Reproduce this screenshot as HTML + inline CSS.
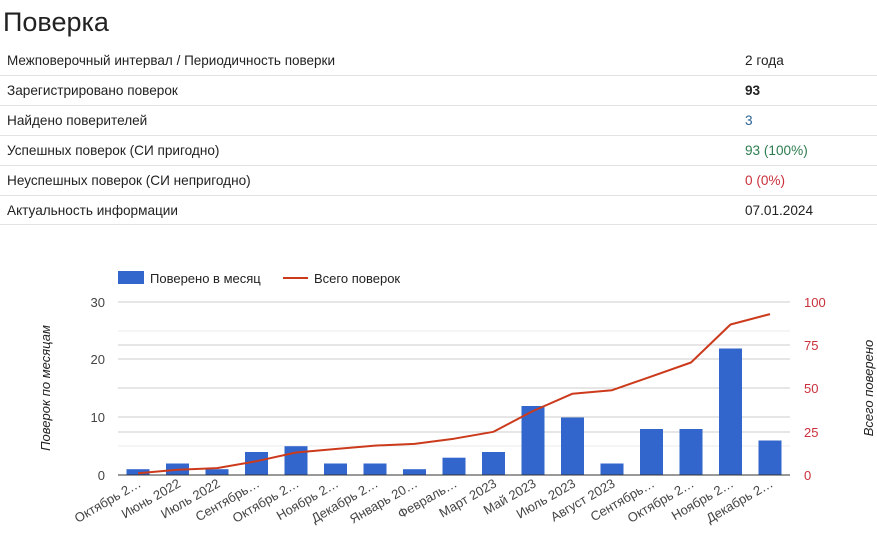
<!DOCTYPE html>
<html><head><meta charset="utf-8"><style>
body{margin:0;background:#fff;}
svg text{font-family:"Liberation Sans",sans-serif;}
</style></head><body>
<svg width="877" height="546" xmlns="http://www.w3.org/2000/svg">
<text x="3" y="31" font-size="27" fill="#222">Поверка</text>
<g font-size="13.6" fill="#222">
<text x="7" y="65" textLength="328" lengthAdjust="spacingAndGlyphs">Межповерочный интервал / Периодичность поверки</text>
<text x="745" y="65">2 года</text>
<text x="7" y="95">Зарегистрировано поверок</text>
<text x="745" y="95" font-weight="bold">93</text>
<text x="7" y="125">Найдено поверителей</text>
<text x="745" y="125" fill="#2a6496">3</text>
<text x="7" y="155">Успешных поверок (СИ пригодно)</text>
<text x="745" y="155" fill="#2e7d4f">93 (100%)</text>
<text x="7" y="185">Неуспешных поверок (СИ непригодно)</text>
<text x="745" y="185" fill="#c9303c">0 (0%)</text>
<text x="7" y="215">Актуальность информации</text>
<text x="745" y="215">07.01.2024</text>
</g>
<g stroke="#e2e2e2" stroke-width="1">
<line x1="0" y1="75.5" x2="877" y2="75.5"/><line x1="0" y1="105.5" x2="877" y2="105.5"/>
<line x1="0" y1="135.5" x2="877" y2="135.5"/><line x1="0" y1="165.5" x2="877" y2="165.5"/>
<line x1="0" y1="195.5" x2="877" y2="195.5"/><line x1="0" y1="224.5" x2="877" y2="224.5"/>
</g>
<rect x="118" y="271" width="26" height="13" fill="#3366cc"/>
<text x="150" y="283" font-size="13" fill="#222">Поверено в месяц</text>
<line x1="283" y1="278" x2="308" y2="278" stroke="#cc3a1c" stroke-width="2"/>
<text x="314" y="283" font-size="13" fill="#222">Всего поверок</text>
<g stroke="#ccc" stroke-width="1">
<line x1="118" y1="302" x2="790" y2="302"/>
<line x1="118" y1="345" x2="790" y2="345"/>
<line x1="118" y1="359" x2="790" y2="359"/>
<line x1="118" y1="388" x2="790" y2="388"/>
<line x1="118" y1="417" x2="790" y2="417"/>
<line x1="118" y1="432" x2="790" y2="432"/>
</g>
<g stroke="#ebebeb" stroke-width="1">
<line x1="118" y1="331" x2="790" y2="331"/>
<line x1="118" y1="446" x2="790" y2="446"/>
</g>
<g font-size="13" fill="#444" text-anchor="end">
<text x="105" y="307">30</text><text x="105" y="364">20</text><text x="105" y="422">10</text><text x="105" y="480">0</text>
</g>
<g font-size="13" fill="#c9303c">
<text x="804" y="307">100</text><text x="804" y="350">75</text><text x="804" y="393">50</text><text x="804" y="437">25</text><text x="804" y="480">0</text>
</g>
<text transform="translate(50,388) rotate(-90)" text-anchor="middle" font-size="13" font-style="italic" fill="#222">Поверок по месяцам</text>
<text transform="translate(873,388) rotate(-90)" text-anchor="middle" font-size="13" font-style="italic" fill="#222">Всего поверено</text>
<g fill="#3366cc">
<rect x="126.5" y="469.2" width="23" height="5.8"/>
<rect x="166" y="463.5" width="23" height="11.5"/>
<rect x="205.5" y="469.2" width="23" height="5.8"/>
<rect x="245" y="452" width="23" height="23"/>
<rect x="284.5" y="446.2" width="23" height="28.8"/>
<rect x="324" y="463.5" width="23" height="11.5"/>
<rect x="363.5" y="463.5" width="23" height="11.5"/>
<rect x="403" y="469.2" width="23" height="5.8"/>
<rect x="442.5" y="457.7" width="23" height="17.3"/>
<rect x="482" y="452" width="23" height="23"/>
<rect x="521.5" y="406" width="23" height="69"/>
<rect x="561" y="417.5" width="23" height="57.5"/>
<rect x="600.5" y="463.5" width="23" height="11.5"/>
<rect x="640" y="429" width="23" height="46"/>
<rect x="679.5" y="429" width="23" height="46"/>
<rect x="719" y="348.5" width="23" height="126.5"/>
<rect x="758.5" y="440.5" width="23" height="34.5"/>
</g>
<line x1="118" y1="475" x2="790" y2="475" stroke="#333" stroke-width="1"/>
<polyline fill="none" stroke="#cc3a1c" stroke-width="2" stroke-linejoin="round" points="138,473.3 177.5,469.8 217,468.1 256.5,461.2 296,452.5 335.5,449 375,445.6 414.5,443.9 454,438.7 493.5,431.8 533,411 572.5,393.7 612,390.2 651.5,376.4 691,362.5 730.5,324.5 770,314.1"/>
<g font-size="13" fill="#444" text-anchor="end">
<text transform="translate(142,486) rotate(-30)">Октябрь 2…</text>
<text transform="translate(181.5,486) rotate(-30)">Июнь 2022</text>
<text transform="translate(221,486) rotate(-30)">Июль 2022</text>
<text transform="translate(260.5,486) rotate(-30)">Сентябрь…</text>
<text transform="translate(300,486) rotate(-30)">Октябрь 2…</text>
<text transform="translate(339.5,486) rotate(-30)">Ноябрь 2…</text>
<text transform="translate(379,486) rotate(-30)">Декабрь 2…</text>
<text transform="translate(418.5,486) rotate(-30)">Январь 20…</text>
<text transform="translate(458,486) rotate(-30)">Февраль…</text>
<text transform="translate(497.5,486) rotate(-30)">Март 2023</text>
<text transform="translate(537,486) rotate(-30)">Май 2023</text>
<text transform="translate(576.5,486) rotate(-30)">Июль 2023</text>
<text transform="translate(616,486) rotate(-30)">Август 2023</text>
<text transform="translate(655.5,486) rotate(-30)">Сентябрь…</text>
<text transform="translate(695,486) rotate(-30)">Октябрь 2…</text>
<text transform="translate(734.5,486) rotate(-30)">Ноябрь 2…</text>
<text transform="translate(774,486) rotate(-30)">Декабрь 2…</text>
</g>
</svg>
</body></html>
